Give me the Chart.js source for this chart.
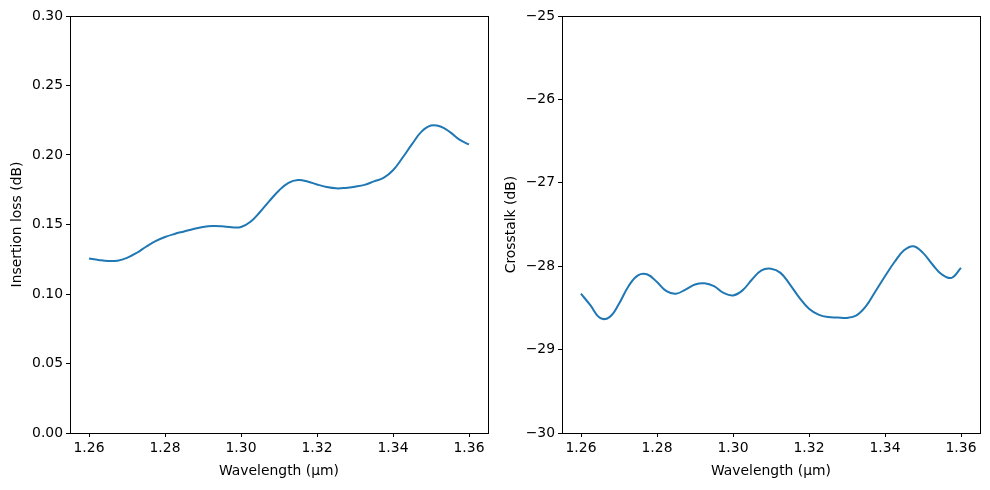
<!DOCTYPE html>
<html>
<head>
<meta charset="utf-8">
<script src="https://cdn.jsdelivr.net/npm/chart.js@4/dist/chart.umd.min.js"></script>
<style>
  html, body { margin: 0; padding: 0; background: #fff; }
  #wrap { position: relative; width: 990px; height: 490px; }
  .box { position: absolute; top: 0; width: 495px; height: 490px; }
</style>
</head>
<body>
<div id="wrap">
  <div class="box" style="left:0"><canvas id="loss_chart"></canvas></div>
  <div class="box" style="left:495px"><canvas id="xtalk_chart"></canvas></div>
</div>
<script>

// wavelength samples (um), shared by both panels
const wavelength = [1.2600, 1.2625, 1.2650, 1.2675, 1.2700, 1.2725, 1.2750, 1.2775, 1.2800, 1.2825,
                    1.2850, 1.2875, 1.2900, 1.2925, 1.2950, 1.2975, 1.3000, 1.3025, 1.3050, 1.3075,
                    1.3100, 1.3125, 1.3150, 1.3175, 1.3200, 1.3225, 1.3250, 1.3275, 1.3300, 1.3325,
                    1.3350, 1.3375, 1.3400, 1.3425, 1.3450, 1.3475, 1.3500, 1.3525, 1.3550, 1.3575, 1.3600];

// insertion loss (left panel)
const loss_db = [0.1256, 0.1245, 0.1237, 0.1240, 0.1260, 0.1295, 0.1340, 0.1380, 0.1410, 0.1432,
                 0.1450, 0.1468, 0.1482, 0.1489, 0.1487, 0.1480, 0.1482, 0.1520, 0.1590, 0.1670,
                 0.1745, 0.1800, 0.1820, 0.1810, 0.1788, 0.1770, 0.1760, 0.1763, 0.1772, 0.1785,
                 0.1810, 0.1835, 0.1890, 0.1980, 0.2078, 0.2168, 0.2212, 0.2205, 0.2165, 0.2110, 0.2076];

// crosstalk (right panel)
const xtalk_db = [-28.33, -28.47, -28.62, -28.61, -28.45, -28.24, -28.11, -28.10, -28.19, -28.30,
                  -28.33, -28.28, -28.22, -28.205, -28.24, -28.32, -28.35, -28.29, -28.16, -28.05,
                  -28.03, -28.08, -28.22, -28.38, -28.51, -28.58, -28.61, -28.615, -28.62, -28.59,
                  -28.48, -28.30, -28.12, -27.95, -27.81, -27.76, -27.84, -27.98, -28.10, -28.14, -28.02];

const x_ticks = [1.26, 1.28, 1.30, 1.32, 1.34, 1.36];
const loss_ticks = [0, 0.05, 0.10, 0.15, 0.20, 0.25, 0.30];
const xtalk_ticks = [-30, -29, -28, -27, -26, -25];

const line_color = '#1f77b4';
const font_family = '"DejaVu Sans", sans-serif';

Chart.defaults.font.family = font_family;
Chart.defaults.font.size = 13.9;
Chart.defaults.color = '#000';

// draws the full axes box like matplotlib spines
const framePlugin = {
    id: 'frame',
    afterDatasetsDraw(chart){
        const a = chart.chartArea;
        const ctx = chart.ctx;
        ctx.save();
        ctx.strokeStyle = '#000';
        ctx.lineWidth = 1;
        ctx.strokeRect(Math.round(a.left) + 0.5, Math.round(a.top) + 0.5,
                       Math.round(a.right - a.left), Math.round(a.bottom - a.top));
        ctx.restore();
    }
};

function makeChart(canvas, xs, ys, yTicks, yLabel, yFormat, yAxisWidth, padRight, titlePad){

    const points = xs.map((x, i) => ({ x: x, y: ys[i] }));

    return new Chart(canvas, {
        type: 'line',
        data: {
            datasets: [{
                data: points,
                borderColor: line_color,
                borderWidth: 2,
                pointRadius: 0,
                fill: false,
                tension: 0.4
            }]
        },
        options: {
            responsive: false,
            animation: false,
            events: [],
            layout: { padding: { top: 16, right: padRight, bottom: 0, left: 0 } },
            plugins: { legend: { display: false }, tooltip: { enabled: false } },
            scales: {
                x: {
                    type: 'linear',
                    min: 1.255,
                    max: 1.365,
                    afterBuildTicks: scale => { scale.ticks = x_ticks.map(v => ({ value: v })); },
                    afterFit: scale => { scale.height = 57; },
                    grid: { drawOnChartArea: false, tickLength: 4, color: '#000' },
                    border: { color: '#000', width: 1 },
                    ticks: { padding: 3, maxRotation: 0, callback: v => v.toFixed(2) },
                    title: { display: true, text: 'Wavelength (μm)', padding: { top: 0, bottom: 10 } }
                },
                y: {
                    type: 'linear',
                    min: yTicks[0],
                    max: yTicks[yTicks.length - 1],
                    afterBuildTicks: scale => { scale.ticks = yTicks.map(v => ({ value: v })); },
                    afterFit: scale => { scale.width = yAxisWidth; },
                    grid: { drawOnChartArea: false, tickLength: 4, color: '#000' },
                    border: { color: '#000', width: 1 },
                    ticks: { padding: 3, callback: yFormat },
                    title: { display: true, text: yLabel, padding: { top: titlePad, bottom: 0 } }
                }
            }
        },
        plugins: [framePlugin]
    });

}

const loss_canvas = document.getElementById('loss_chart');
loss_canvas.width = 495; loss_canvas.height = 490;
const xtalk_canvas = document.getElementById('xtalk_chart');
xtalk_canvas.width = 495; xtalk_canvas.height = 490;

makeChart(loss_canvas, wavelength, loss_db, loss_ticks, 'Insertion loss (dB)',
          v => v.toFixed(2), 70, 7, 9);

makeChart(xtalk_canvas, wavelength, xtalk_db, xtalk_ticks, 'Crosstalk (dB)',
          v => (v < 0 ? '\u2212' + Math.abs(v) : String(v)), 67, 10, 8);

</script>
</body>
</html>
